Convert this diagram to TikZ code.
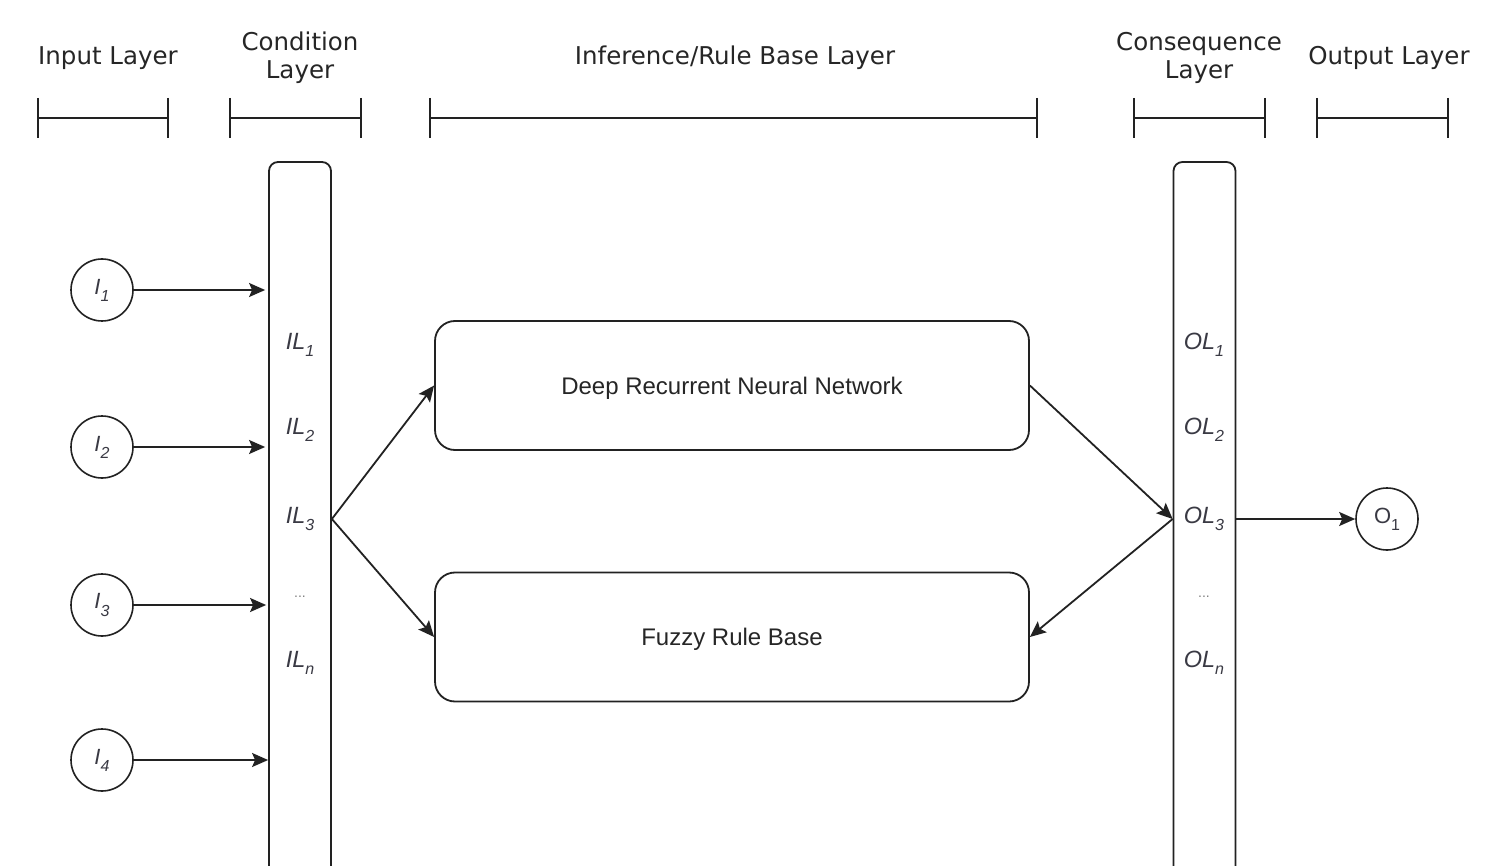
\documentclass[tikz,border=0pt]{standalone}
\usepackage{fontspec}
\setmainfont{Liberation Sans}
\newfontfamily\hdrfont{DejaVu Sans}
\usetikzlibrary{arrows.meta}
\definecolor{linec}{HTML}{222222}
\definecolor{textc}{HTML}{262626}
\definecolor{labc}{HTML}{3A3A44}
\newcommand{\sbx}[1]{\raisebox{-0.32em}{\fontsize{16}{17}\selectfont #1}}
\begin{document}
\begin{tikzpicture}[x=1pt,y=-1pt,
  ln/.style={draw=linec,line width=1.8pt},
  hdr/.style={font=\hdrfont\fontsize{24.5}{28}\selectfont,text=textc,align=center,inner sep=0pt},
  inp/.style={circle,draw=linec,line width=1.6pt,minimum size=62pt,inner sep=0pt,text=labc,font=\fontsize{22}{24}\selectfont\itshape},
  col/.style={draw=linec,rounded corners=9pt,minimum width=62pt,minimum height=760pt,line width=1.8pt},
  box/.style={draw=linec,rounded corners=20pt,minimum width=594pt,minimum height=129pt,line width=1.8pt,text=textc,font=\fontsize{24}{28}\selectfont},
  lab/.style={text=labc,font=\fontsize{23.5}{26}\selectfont\itshape,inner sep=0pt},
  dots/.style={text=gray,font=\fontsize{14}{16}\selectfont,inner sep=0pt},
  arr/.style={draw=linec,line width=1.8pt,-{Stealth[length=16pt,width=14pt,inset=3pt]}}
]
\useasboundingbox (0,0) rectangle (1496,866);
\fill[white] (0,0) rectangle (1496,866);
\clip (0,0) rectangle (1496,866);

% headers
\node[hdr] (hin) at (108,58) {Input Layer};
\node[hdr] (hcond) at (300,58) {Condition\\Layer};
\node[hdr] (hinf) at (735,58) {Inference/Rule Base Layer};
\node[hdr] (hcons) at (1199,58) {Consequence\\Layer};
\node[hdr] (hout) at (1389,58) {Output Layer};

% header brackets
\foreach \a/\b in {38/168,230/361,430/1037,1134/1265,1317/1448}{
  \draw[ln] (\a,118) -- (\b,118);
  \draw[ln] (\a,98) -- (\a,138);
  \draw[ln] (\b,98) -- (\b,138);
}

% columns
\node[col] (cond) at (300,542) {};
\node[col] (cons) at (1204.5,542) {};

% inputs
\node[inp] (I1) at (102,290) {I\sbx{1}};
\node[inp] (I2) at (102,447) {I\sbx{2}};
\node[inp] (I3) at (102,605) {I\sbx{3}};
\node[inp] (I4) at (102,760) {I\sbx{4}};

% condition labels
\node[lab] (IL1) at (300,345) {IL\sbx{1}};
\node[lab] (IL2) at (300,430) {IL\sbx{2}};
\node[lab] (IL3) at (300,519) {IL\sbx{3}};
\node[dots] (ILd) at (300,597) {...};
\node[lab] (ILn) at (300,663) {IL\sbx{n}};

% consequence labels
\node[lab] (OL1) at (1204,345) {OL\sbx{1}};
\node[lab] (OL2) at (1204,430) {OL\sbx{2}};
\node[lab] (OL3) at (1204,519) {OL\sbx{3}};
\node[dots] (OLd) at (1204,597) {...};
\node[lab] (OLn) at (1204,663) {OL\sbx{n}};

% inference boxes
\node[box] (drnn) at (732,385.5) {\raisebox{-3pt}[\height][\depth]{Deep Recurrent Neural Network}};
\node[box] (frb) at (732,637) {\raisebox{-2pt}[\height][\depth]{Fuzzy Rule Base}};

% output
\node[inp,font=\fontsize{22}{24}\selectfont] (O1) at (1387,519) {O\sbx{1}};

% connectors
\draw[arr,shorten >=3pt] (I1) -- (I1 -| cond.west);
\draw[arr,shorten >=3pt] (I2) -- (I2 -| cond.west);
\draw[arr,shorten >=2pt] (I3) -- (I3 -| cond.west);
\draw[arr] (I4) -- (I4 -| cond.west);
\draw[arr] (IL3 -| cond.east) -- (drnn.west);
\draw[arr] (IL3 -| cond.east) -- (frb.west);
\draw[arr] (drnn.east) -- (OL3 -| cons.west);
\draw[arr] (OL3 -| cons.west) -- (frb.east);
\draw[arr] (OL3 -| cons.east) -- (O1);
\end{tikzpicture}
\end{document}
